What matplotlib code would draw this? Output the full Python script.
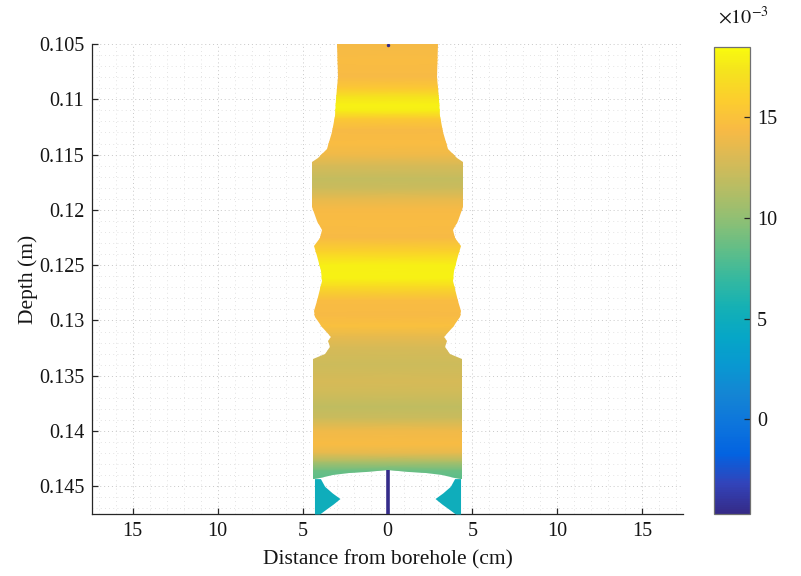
import numpy as np
import matplotlib
matplotlib.use('Agg')
import matplotlib.pyplot as plt
from matplotlib.colors import LinearSegmentedColormap, Normalize
from matplotlib.patches import Polygon
from matplotlib.ticker import MultipleLocator
import matplotlib.cm as cm

# ---------------- data ----------------
# half width (cm) of the wetted zone vs depth (m)
edge_depth = [0.1050, 0.1080, 0.1100, 0.1115, 0.1130, 0.1145, 0.1153, 0.1157,
              0.1197, 0.1210, 0.1218, 0.1225, 0.1233, 0.1242, 0.1255, 0.1264,
              0.1282, 0.1291, 0.1297, 0.1306, 0.1315, 0.1319, 0.1324, 0.1330,
              0.1335, 0.1443]
half_width = [2.95, 2.92, 3.05, 3.10, 3.25, 3.55, 4.10, 4.45,
              4.45, 4.15, 3.85, 4.00, 4.30, 4.15, 3.90, 3.88,
              4.15, 4.30, 4.25, 3.85, 3.35, 3.50, 3.40, 3.70,
              4.38, 4.38]

# value (x 1e-3) vs depth (m)
value_depth = [0.1050, 0.1065, 0.1080, 0.1090, 0.1098, 0.1105, 0.1110, 0.1118,
               0.1128, 0.1140, 0.1150, 0.1160, 0.1172, 0.1180, 0.1190, 0.1200,
               0.1212, 0.1225, 0.1238, 0.1250, 0.1262, 0.1270, 0.1282, 0.1295,
               0.1305, 0.1315, 0.1325, 0.1340, 0.1355, 0.1365, 0.1378, 0.1388,
               0.1400, 0.1412, 0.1420, 0.1428, 0.1436, 0.1443]
value_e3 = [14.3, 14.6, 14.4, 15.5, 17.3, 18.0, 17.8, 15.5,
            14.4, 14.6, 14.0, 12.8, 12.0, 12.3, 13.6, 14.4,
            14.6, 14.4, 16.2, 17.9, 18.0, 16.6, 14.6, 14.4,
            14.8, 13.6, 12.8, 12.4, 12.8, 12.6, 11.8, 12.3,
            14.0, 14.5, 13.6, 11.0, 8.8, 8.2]

# bottom of the zone between the two side lobes (dome)
dome_x = [0.0, 1.25, 2.24, 3.22, 4.0, 4.38]
dome_depth = [0.14355, 0.14368, 0.14382, 0.14398, 0.14425, 0.14430]

# side lobes at the bottom
blob_depth = [0.1443, 0.1450, 0.1456, 0.1461, 0.1466, 0.1471, 0.1475]
blob_inner = [3.95, 3.70, 3.25, 2.80, 3.20, 3.65, 4.00]
blob_outer = 4.30
blob_value = 5.0

# borehole line
line_depth = [0.14355, 0.1475]
line_value = -4.6
top_dot_depth = 0.1051

x_ticks = [-15, -10, -5, 0, 5, 10, 15]
x_tick_labels = ['15', '10', '5', '0', '5', '10', '15']
y_ticks = [0.105, 0.110, 0.115, 0.120, 0.125, 0.130, 0.135, 0.140, 0.145]
y_tick_labels = ['0.105', '0.11', '0.115', '0.12', '0.125', '0.13', '0.135', '0.14', '0.145']
cbar_ticks = [0, 5, 10, 15]
cbar_tick_labels = ['0', '5', '10', '15']

vmin, vmax = -4.7, 18.5
xlim = (-17.4, 17.4)
ylim = (0.1475, 0.105)

# ---------------- colormap (parula-like) ----------------
parula_pts = [
    (0.2081, 0.1663, 0.5292), (0.1959, 0.2645, 0.7279), (0.0117, 0.3875, 0.8820),
    (0.0498, 0.4586, 0.8641), (0.0793, 0.5200, 0.8312), (0.0343, 0.5966, 0.8199),
    (0.0228, 0.6535, 0.7768), (0.0843, 0.6928, 0.7062), (0.2178, 0.7250, 0.6193),
    (0.3953, 0.7459, 0.5244), (0.5709, 0.7485, 0.4494), (0.7184, 0.7411, 0.3905),
    (0.8507, 0.7299, 0.3360), (0.9739, 0.7314, 0.2666), (0.9880, 0.8066, 0.1794),
    (0.9589, 0.8949, 0.1132), (0.9763, 0.9831, 0.0538)]
pos = [i * 4 / 63 for i in range(16)] + [1.0]
parula = LinearSegmentedColormap.from_list('parula', list(zip(pos, parula_pts)), N=256)
norm = Normalize(vmin=vmin, vmax=vmax)

plt.rcParams['font.family'] = ['Liberation Serif', 'DejaVu Serif']
plt.rcParams['mathtext.fontset'] = 'stix'

fig = plt.figure(figsize=(8.01, 5.76), dpi=100)
ax = fig.add_axes([92 / 801, 62 / 576, 591 / 801, 470 / 576])
cax = fig.add_axes([714 / 801, 62 / 576, 36 / 801, 467 / 576])

axis_color = '#262626'
text_color = '#151515'

# grid
ax.set_axisbelow(True)
ax.xaxis.set_minor_locator(MultipleLocator(1))
ax.yaxis.set_minor_locator(MultipleLocator(0.001))
ax.grid(True, which='major', linestyle=(0, (1, 3)), color='#c8c8c8', linewidth=0.7)
ax.grid(True, which='minor', linestyle=(0, (1, 4)), color='#dadada', linewidth=0.6)

# main field (gouraud mesh clipped by the zone outline)
vd = np.array(value_depth)
X = np.column_stack([np.full(vd.size, -4.6), np.full(vd.size, 4.6)])
Y = np.column_stack([vd, vd])
C = np.column_stack([value_e3, value_e3])
mesh = ax.pcolormesh(X, Y, C, shading='gouraud', cmap=parula, norm=norm, zorder=2)

ed = np.array(edge_depth)
hw = np.array(half_width)
dx = np.array(dome_x)
dd = np.array(dome_depth)
left = np.column_stack([-hw, ed])
dome_left = np.column_stack([-dx[::-1], dd[::-1]])
dome_right = np.column_stack([dx[1:], dd[1:]])
right = np.column_stack([hw[::-1], ed[::-1]])
outline = np.vstack([left, dome_left, dome_right, right])
clip = Polygon(outline, closed=True, transform=ax.transData, facecolor='none', edgecolor='none')
ax.add_patch(clip)
mesh.set_clip_path(clip)

# side lobes
bd = np.array(blob_depth)
bi = np.array(blob_inner)
bcol = parula(norm(blob_value))
ax.fill_betweenx(bd, -np.full(bd.size, blob_outer), -bi, color=bcol, lw=0, zorder=3)
ax.fill_betweenx(bd, bi, np.full(bd.size, blob_outer), color=bcol, lw=0, zorder=3)

# borehole line
lcol = parula(norm(line_value))
ax.plot([0, 0], line_depth, color=lcol, lw=2.6, solid_capstyle='butt', zorder=4)
ax.plot([0], [top_dot_depth], marker='o', ms=2.5, color=lcol, mec='none', zorder=4)

ax.set_xlim(*xlim)
ax.set_ylim(*ylim)
ax.set_xticks(x_ticks)
ax.set_xticklabels(x_tick_labels)
ax.set_yticks(y_ticks)
ax.set_yticklabels(y_tick_labels)

for s in ['top', 'right']:
    ax.spines[s].set_visible(False)
for s in ['left', 'bottom']:
    ax.spines[s].set_color(axis_color)
    ax.spines[s].set_linewidth(0.9)
ax.tick_params(which='major', direction='in', length=4, width=0.9, color=axis_color,
               labelsize=14.5, labelcolor=text_color, pad=5.5)
ax.tick_params(which='minor', length=0)

ax.set_xlabel('Distance from borehole (cm)', fontsize=15.5, color=text_color, labelpad=7)
ax.set_ylabel('Depth (m)', fontsize=15.5, color=text_color, labelpad=1)

# colorbar
sm = cm.ScalarMappable(norm=norm, cmap=parula)
cb = fig.colorbar(sm, cax=cax)
cb.set_ticks(cbar_ticks)
cb.set_ticklabels(cbar_tick_labels)
cb.outline.set_edgecolor('#707070')
cb.outline.set_linewidth(0.9)
cax.tick_params(direction='in', length=4, width=0.9, color=axis_color,
                labelsize=14.5, labelcolor=text_color, pad=5)
cax.text(0.1, 1.04, r'$\times10^{-3}$', transform=cax.transAxes, fontsize=14.5,
         ha='left', va='bottom', color=text_color)

fig.savefig('out.png', dpi=100)
